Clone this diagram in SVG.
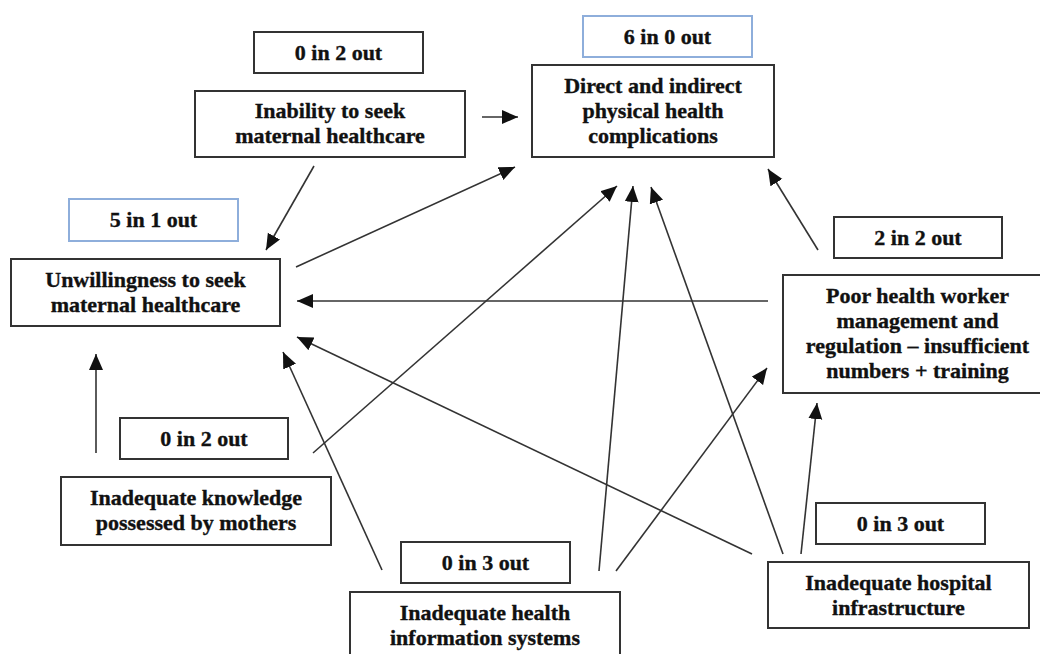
<svg xmlns="http://www.w3.org/2000/svg" width="1040" height="654" viewBox="0 0 1040 654">
<style>
.box{fill:#fff;stroke:#333;stroke-width:2}
.cnt{fill:#fff;stroke:#333;stroke-width:2}
.blue{fill:#fff;stroke:#8eaedb;stroke-width:2}
text{font-family:"Liberation Serif","Times New Roman",serif;font-weight:bold;font-size:22px;fill:#111;stroke:#111;stroke-width:0.35;text-anchor:middle}
.edge{stroke:#333;stroke-width:1.6;fill:none;marker-end:url(#ah)}
</style>
<defs>
<marker id="ah" markerUnits="userSpaceOnUse" markerWidth="17" markerHeight="15" refX="16" refY="7" orient="auto">
<path d="M0,0 L16,7 L0,14 z" fill="#111"/>
</marker>
</defs>
<rect width="1040" height="654" fill="#fff"/>
<g id="connectors">
<line class="edge" x1="482" y1="117" x2="518" y2="117"/>
<line class="edge" x1="314" y1="166" x2="266" y2="250"/>
<line class="edge" x1="296" y1="267" x2="515" y2="167"/>
<line class="edge" x1="768" y1="301" x2="297" y2="301"/>
<line class="edge" x1="818" y1="250" x2="768" y2="169"/>
<line class="edge" x1="96" y1="453" x2="96" y2="354"/>
<line class="edge" x1="313" y1="453" x2="617" y2="186"/>
<line class="edge" x1="382" y1="570" x2="283" y2="352"/>
<line class="edge" x1="599" y1="571" x2="633" y2="186"/>
<line class="edge" x1="616" y1="571" x2="767" y2="368"/>
<line class="edge" x1="752" y1="554" x2="297" y2="337"/>
<line class="edge" x1="783" y1="554" x2="651" y2="187"/>
<line class="edge" x1="801" y1="554" x2="817" y2="403"/>
</g>
<g id="count-inability"><rect class="cnt" x="254" y="32" width="169" height="41"/><text x="338.5" y="60">0 in 2 out</text></g>
<g id="inability"><rect class="box" x="195" y="91" width="270" height="66"/><text x="330" y="118">Inability to seek</text><text x="330" y="143">maternal healthcare</text></g>
<g id="count-direct"><rect class="blue" x="583" y="16" width="169" height="41"/><text x="667.5" y="44">6 in 0 out</text></g>
<g id="direct"><rect class="box" x="532" y="65" width="242" height="92"/><text x="653" y="93">Direct and indirect</text><text x="653" y="118">physical health</text><text x="653" y="143">complications</text></g>
<g id="count-unwillingness"><rect class="blue" x="69" y="199" width="169" height="42"/><text x="153.5" y="227">5 in 1 out</text></g>
<g id="unwillingness"><rect class="box" x="11" y="259" width="269" height="67"/><text x="145.5" y="287">Unwillingness to seek</text><text x="145.5" y="312">maternal healthcare</text></g>
<g id="count-poor"><rect class="cnt" x="834" y="217" width="168" height="41"/><text x="918" y="245">2 in 2 out</text></g>
<g id="poor"><rect class="box" x="783" y="275" width="269" height="118"/><text x="917.5" y="303">Poor health worker</text><text x="917.5" y="328">management and</text><text x="917.5" y="353">regulation – insufficient</text><text x="917.5" y="378">numbers + training</text></g>
<g id="count-knowledge"><rect class="cnt" x="120" y="418" width="168" height="41"/><text x="204" y="446">0 in 2 out</text></g>
<g id="knowledge"><rect class="box" x="61" y="477" width="270" height="68"/><text x="196" y="505">Inadequate knowledge</text><text x="196" y="530">possessed by mothers</text></g>
<g id="count-info"><rect class="cnt" x="401" y="542" width="169" height="41"/><text x="485.5" y="570">0 in 3 out</text></g>
<g id="info"><rect class="box" x="350" y="592" width="270" height="68"/><text x="485" y="620">Inadequate health</text><text x="485" y="645">information systems</text></g>
<g id="count-hospital"><rect class="cnt" x="816" y="503" width="169" height="41"/><text x="900.5" y="531">0 in 3 out</text></g>
<g id="hospital"><rect class="box" x="768" y="562" width="261" height="66"/><text x="898.5" y="590">Inadequate hospital</text><text x="898.5" y="615">infrastructure</text></g>
</svg>
